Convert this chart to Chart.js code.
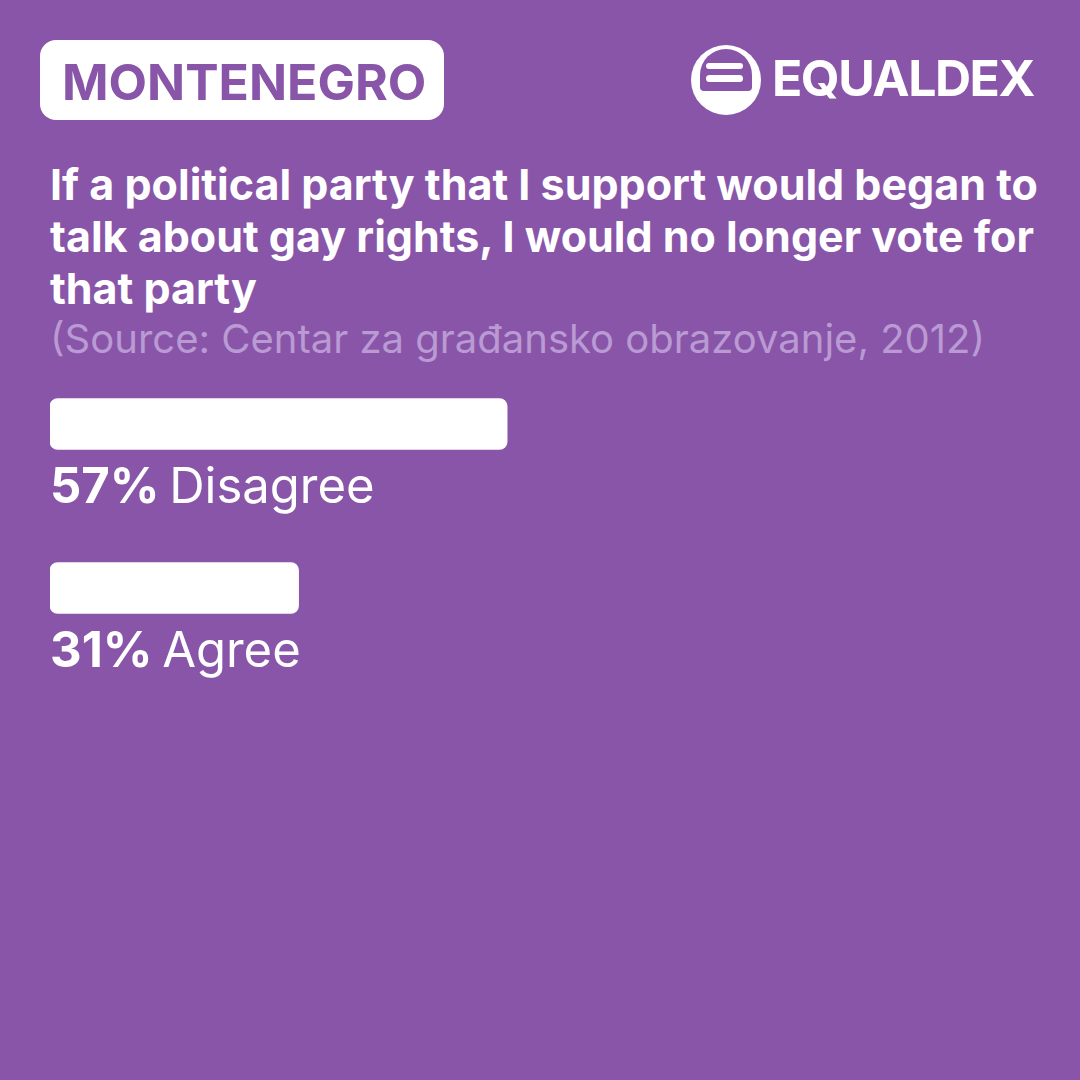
<!DOCTYPE html>
<html>
<head>
<meta charset="utf-8">
<script src="https://cdn.jsdelivr.net/npm/chart.js@4/dist/chart.umd.min.js"></script>
<style>
    html, body {
        margin: 0;
        padding: 0;
    }
    body {
        width: 1080px;
        height: 1080px;
        background: #8955a9;
        position: relative;
        overflow: hidden;
        font-family: 'Inter', 'Noto Sans', sans-serif;
    }
    .country {
        position: absolute;
        left: 40px;
        top: 40px;
        width: 404px;
        height: 80px;
        background: #ffffff;
        border-radius: 16px;
        box-sizing: border-box;
        padding-left: 22px;
        padding-top: 2px;
        line-height: 80px;
        font-size: 50px;
        font-weight: 700;
        color: #8955a9;
    }
    .logo {
        position: absolute;
        left: 690px;
        top: 45px;
    }
    .brand {
        position: absolute;
        left: 772px;
        top: 48px;
        font-size: 50px;
        font-weight: 700;
        color: #ffffff;
        letter-spacing: -1.5px;
    }
    .question {
        position: absolute;
        left: 50px;
        top: 158px;
        font-size: 43px;
        line-height: 52px;
        font-weight: 700;
        color: #ffffff;
        white-space: nowrap;
    }
    .source {
        position: absolute;
        left: 50px;
        top: 314px;
        font-size: 40px;
        color: #b99ad3;
        white-space: nowrap;
    }
    #chartBox {
        position: absolute;
        left: 50px;
        top: 342px;
    }
</style>
</head>
<body>
    <div class="country">MONTENEGRO</div>

    <svg class="logo" width="72" height="72" viewBox="0 0 72 72">
        <circle cx="36" cy="35" r="35" fill="#ffffff"/>
        <path d="M 10 42 L 10 30 A 26 26 0 0 1 62 30 L 62 42 Q 62 46 58 46 L 14 46 Q 10 46 10 42 Z" fill="#8955a9"/>
        <rect x="16" y="18" width="37" height="6" rx="3" fill="#ffffff"/>
        <rect x="16" y="30" width="37" height="7" rx="3.5" fill="#ffffff"/>
    </svg>
    <div class="brand">EQUALDEX</div>

    <div class="question">If a political party that I support would began to<br>talk about gay rights, I would no longer vote for<br>that party</div>
    <div class="source">(Source: Centar za građansko obrazovanje, 2012)</div>

    <div id="chartBox">
        <canvas id="answersChart" width="802" height="372"></canvas>
    </div>

<script>
    // Datos de la encuesta
    const answers = ['Disagree', 'Agree'];
    const percents = [57, 31];

    // Etiqueta debajo de cada barra: "57%" en negrita + respuesta
    const barLabels = {
        id: 'barLabels',
        afterDatasetsDraw(chart) {
            const ctx = chart.ctx;
            const meta = chart.getDatasetMeta(0);
            ctx.save();
            ctx.fillStyle = '#ffffff';
            ctx.textBaseline = 'alphabetic';
            ctx.textAlign = 'left';
            meta.data.forEach((bar, i) => {
                const x = bar.base;
                const y = bar.y + bar.height / 2 + 53;
                const pct = percents[i] + '%';
                ctx.font = "700 49px 'Inter', sans-serif";
                ctx.fillText(pct, x, y);
                const w = ctx.measureText(pct + ' ').width;
                ctx.font = "400 49px 'Inter', sans-serif";
                ctx.fillText(answers[i], x + w - 2, y);
            });
            ctx.restore();
        }
    };

    new Chart(document.getElementById('answersChart'), {
        type: 'bar',
        data: {
            labels: answers,
            datasets: [{
                data: percents,
                backgroundColor: '#ffffff',
                borderRadius: 8,
                borderSkipped: false,
                barThickness: 51
            }]
        },
        options: {
            indexAxis: 'y',
            responsive: false,
            animation: false,
            layout: { padding: { top: 0, bottom: 44, left: 0, right: 0 } },
            scales: {
                x: { display: false, min: 0, max: 100 },
                y: { display: false }
            },
            plugins: {
                legend: { display: false },
                tooltip: { enabled: false }
            }
        },
        plugins: [barLabels]
    });
</script>
</body>
</html>
